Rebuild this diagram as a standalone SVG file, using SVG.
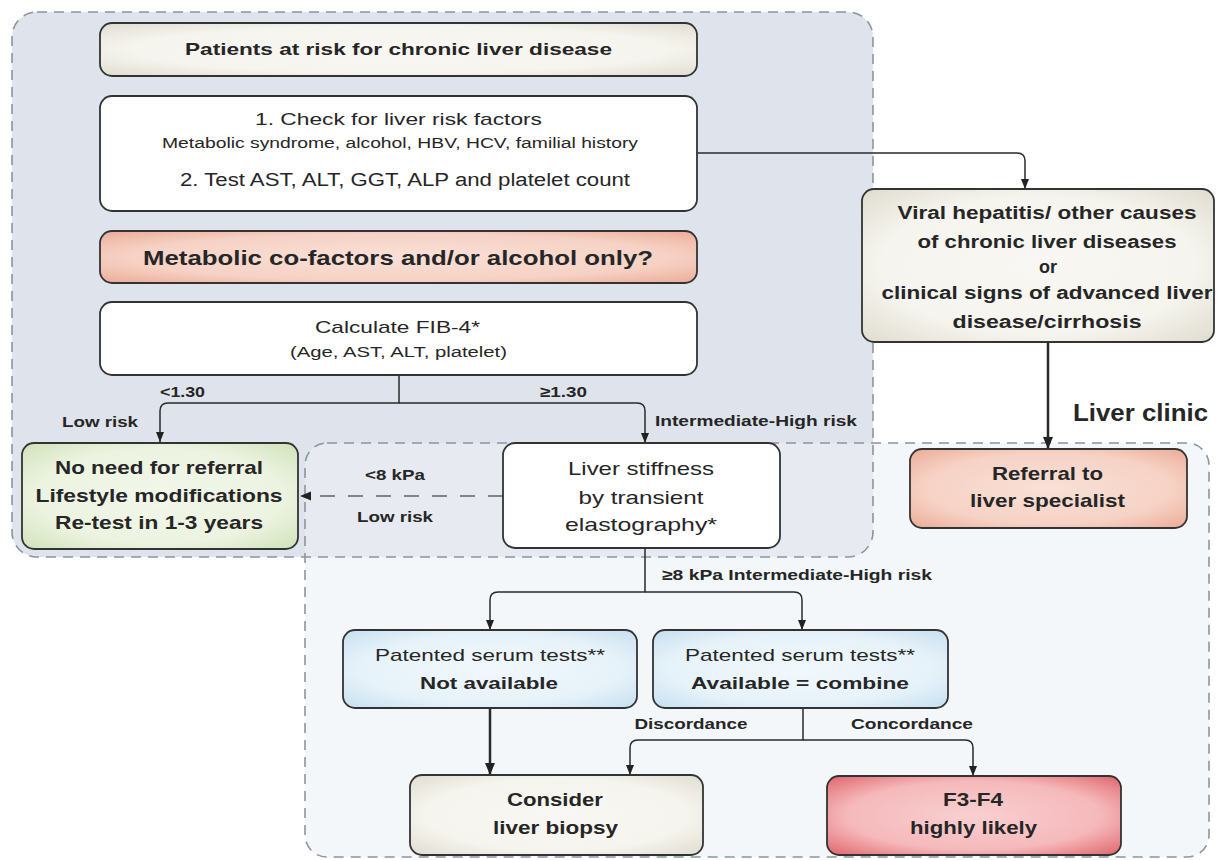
<svg xmlns="http://www.w3.org/2000/svg" width="1222" height="860" viewBox="0 0 1222 860">
<defs>
  <radialGradient id="gBeige" cx="50%" cy="50%" r="72%">
    <stop offset="0" stop-color="#f8f7f3"/><stop offset="0.62" stop-color="#f5f4ee"/><stop offset="1" stop-color="#dedbcd"/>
  </radialGradient>
  <radialGradient id="gSalmon" cx="50%" cy="50%" r="72%">
    <stop offset="0" stop-color="#f9e0d7"/><stop offset="0.62" stop-color="#f6d2c5"/><stop offset="1" stop-color="#eba892"/>
  </radialGradient>
  <radialGradient id="gGreen" cx="50%" cy="50%" r="72%">
    <stop offset="0" stop-color="#f2f7ea"/><stop offset="0.62" stop-color="#ecf3e0"/><stop offset="1" stop-color="#cfe0b8"/>
  </radialGradient>
  <radialGradient id="gBlue" cx="50%" cy="50%" r="72%">
    <stop offset="0" stop-color="#f1f8fc"/><stop offset="0.62" stop-color="#e6f2f9"/><stop offset="1" stop-color="#c3def0"/>
  </radialGradient>
  <radialGradient id="gRed" cx="50%" cy="50%" r="72%">
    <stop offset="0" stop-color="#f9cfd0"/><stop offset="0.6" stop-color="#f5b9bb"/><stop offset="1" stop-color="#de5f66"/>
  </radialGradient>
  <clipPath id="topClip"><rect x="12" y="12" width="861" height="545" rx="25"/></clipPath>
  <marker id="arr" markerUnits="userSpaceOnUse" markerWidth="10" markerHeight="8" refX="10" refY="4" orient="auto">
    <path d="M0,0 L10,4 L0,8 Z" fill="#222"/>
  </marker>
  <marker id="arrBig" markerUnits="userSpaceOnUse" markerWidth="12" markerHeight="10" refX="12" refY="5" orient="auto">
    <path d="M0,0 L12,5 L0,10 Z" fill="#222"/>
  </marker>
</defs>
<style>
  .region{fill:none;stroke:#8c949e;stroke-width:1.6;stroke-dasharray:10 7}
  .box{stroke:#333;stroke-width:1.8}
  .t{font-family:"Liberation Sans",Arial,sans-serif;fill:#262626;text-anchor:middle}
  .b{font-weight:bold}
  .c{fill:none;stroke:#2a2a2a;stroke-width:1.5}
  .thick{stroke-width:2.5}
  .dash{fill:none;stroke:#7d858f;stroke-width:2.2;stroke-dasharray:15 13}
</style>
<rect width="1222" height="860" fill="#ffffff"/>

<g id="regions">
  <rect x="305" y="443" width="904" height="414" rx="22" fill="#f4f7fa"/>
  <rect x="12" y="12" width="861" height="545" rx="25" fill="#dfe4ec"/>
  <rect x="305" y="443" width="904" height="414" rx="22" fill="#e7ebf1" clip-path="url(#topClip)"/>
  <rect class="region" x="12" y="12" width="861" height="545" rx="25"/>
  <rect class="region" x="305" y="443" width="904" height="414" rx="22"/>
  <text class="t b" x="1140.5" y="421" font-size="24" textLength="135" lengthAdjust="spacingAndGlyphs">Liver clinic</text>
</g>

<g id="connectors">
  <path class="c" d="M697,153 H1017 Q1025,153 1025,161 V189" marker-end="url(#arr)"/>
  <path class="c" d="M399,375 V403 H168 Q160,403 160,411 V442" marker-end="url(#arr)"/>
  <path class="c" d="M399,403 H637 Q645,403 645,411 V443" marker-end="url(#arr)"/>
  <path class="dash" d="M503,496 H308"/>
  <path d="M300,496 L311,491.5 L311,500.5 Z" fill="#222"/>
  <path class="c" d="M645,548 V592 H498 Q490,592 490,600 V630" marker-end="url(#arr)"/>
  <path class="c" d="M645,592 H794 Q802,592 802,600 V630" marker-end="url(#arr)"/>
  <path class="c thick" d="M490,708 V775" marker-end="url(#arrBig)"/>
  <path class="c" d="M803,708 V740 H638 Q630,740 630,748 V775" marker-end="url(#arr)"/>
  <path class="c" d="M803,740 H965 Q973,740 973,748 V776" marker-end="url(#arr)"/>
  <path class="c thick" d="M1048,342 V449" marker-end="url(#arrBig)"/>
  <text class="t b" x="182.5" y="397" font-size="15" textLength="45" lengthAdjust="spacingAndGlyphs">&lt;1.30</text>
  <text class="t b" x="563.5" y="397" font-size="15" textLength="47" lengthAdjust="spacingAndGlyphs">≥1.30</text>
  <text class="t b" x="100" y="427" font-size="15" textLength="76" lengthAdjust="spacingAndGlyphs">Low risk</text>
  <text class="t b" x="756" y="426" font-size="15" textLength="202" lengthAdjust="spacingAndGlyphs">Intermediate-High risk</text>
  <text class="t b" x="395" y="480" font-size="15" textLength="60" lengthAdjust="spacingAndGlyphs">&lt;8 kPa</text>
  <text class="t b" x="395" y="522" font-size="15" textLength="76" lengthAdjust="spacingAndGlyphs">Low risk</text>
  <text class="t b" x="797" y="580" font-size="15" textLength="270" lengthAdjust="spacingAndGlyphs">≥8 kPa Intermediate-High risk</text>
  <text class="t b" x="691" y="729" font-size="15" textLength="113" lengthAdjust="spacingAndGlyphs">Discordance</text>
  <text class="t b" x="912" y="729" font-size="15" textLength="122" lengthAdjust="spacingAndGlyphs">Concordance</text>
</g>

<g id="n-patients">
  <rect class="box" x="100" y="23" width="597" height="53" rx="12" fill="url(#gBeige)"/>
  <text class="t b" x="398.5" y="55" font-size="17" textLength="427" lengthAdjust="spacingAndGlyphs">Patients at risk for chronic liver disease</text>
</g>

<g id="n-check">
  <rect class="box" x="100" y="96" width="597" height="115" rx="12" fill="#ffffff"/>
  <text class="t" x="398.5" y="125" font-size="17" textLength="287" lengthAdjust="spacingAndGlyphs">1. Check for liver risk factors</text>
  <text class="t" x="400" y="148" font-size="14" textLength="476" lengthAdjust="spacingAndGlyphs">Metabolic syndrome, alcohol, HBV, HCV, familial history</text>
  <text class="t" x="405" y="186" font-size="18" textLength="450" lengthAdjust="spacingAndGlyphs">2. Test AST, ALT, GGT, ALP and platelet count</text>
</g>

<g id="n-metabolic">
  <rect class="box" x="100" y="231" width="597" height="52" rx="12" fill="url(#gSalmon)"/>
  <text class="t b" x="398" y="265" font-size="21" textLength="510" lengthAdjust="spacingAndGlyphs">Metabolic co-factors and/or alcohol only?</text>
</g>

<g id="n-fib4">
  <rect class="box" x="100" y="302" width="597" height="73" rx="12" fill="#ffffff"/>
  <text class="t" x="397.5" y="333" font-size="17" textLength="165" lengthAdjust="spacingAndGlyphs">Calculate FIB-4*</text>
  <text class="t" x="398.5" y="357" font-size="14" textLength="217" lengthAdjust="spacingAndGlyphs">(Age, AST, ALT, platelet)</text>
</g>

<g id="n-noreferral">
  <rect class="box" x="22" y="443" width="276" height="106" rx="12" fill="url(#gGreen)"/>
  <text class="t b" x="159" y="474" font-size="19" textLength="208" lengthAdjust="spacingAndGlyphs">No need for referral</text>
  <text class="t b" x="159" y="502" font-size="19" textLength="247" lengthAdjust="spacingAndGlyphs">Lifestyle modifications</text>
  <text class="t b" x="159" y="529" font-size="19" textLength="208" lengthAdjust="spacingAndGlyphs">Re-test in 1-3 years</text>
</g>

<g id="n-stiffness">
  <rect class="box" x="503" y="443" width="277" height="105" rx="12" fill="#ffffff"/>
  <text class="t" x="641" y="475" font-size="19" textLength="146" lengthAdjust="spacingAndGlyphs">Liver stiffness</text>
  <text class="t" x="641" y="504" font-size="19" textLength="125" lengthAdjust="spacingAndGlyphs">by transient</text>
  <text class="t" x="641" y="531" font-size="19" textLength="152" lengthAdjust="spacingAndGlyphs">elastography*</text>
</g>

<g id="n-viral">
  <rect class="box" x="862" y="189" width="352" height="153" rx="12" fill="url(#gBeige)"/>
  <text class="t b" x="1047" y="219" font-size="18" textLength="299" lengthAdjust="spacingAndGlyphs">Viral hepatitis/ other causes</text>
  <text class="t b" x="1047" y="248" font-size="18" textLength="259" lengthAdjust="spacingAndGlyphs">of chronic liver diseases</text>
  <text class="t b" x="1048" y="273" font-size="18">or</text>
  <text class="t b" x="1047" y="299" font-size="18" textLength="331" lengthAdjust="spacingAndGlyphs">clinical signs of advanced liver</text>
  <text class="t b" x="1047" y="328" font-size="18" textLength="189" lengthAdjust="spacingAndGlyphs">disease/cirrhosis</text>
</g>

<g id="n-referral">
  <rect class="box" x="910" y="449" width="277" height="79" rx="12" fill="url(#gSalmon)"/>
  <text class="t b" x="1047.5" y="480" font-size="19" textLength="111" lengthAdjust="spacingAndGlyphs">Referral to</text>
  <text class="t b" x="1047.5" y="507" font-size="19" textLength="155" lengthAdjust="spacingAndGlyphs">liver specialist</text>
</g>

<g id="n-notavailable">
  <rect class="box" x="343" y="630" width="294" height="78" rx="12" fill="url(#gBlue)"/>
  <text class="t" x="490" y="661" font-size="17" textLength="230" lengthAdjust="spacingAndGlyphs">Patented serum tests**</text>
  <text class="t b" x="489" y="689" font-size="17" textLength="138" lengthAdjust="spacingAndGlyphs">Not available</text>
</g>

<g id="n-available">
  <rect class="box" x="653" y="630" width="295" height="78" rx="12" fill="url(#gBlue)"/>
  <text class="t" x="800" y="661" font-size="17" textLength="230" lengthAdjust="spacingAndGlyphs">Patented serum tests**</text>
  <text class="t b" x="800" y="689" font-size="17" textLength="218" lengthAdjust="spacingAndGlyphs">Available = combine</text>
</g>

<g id="n-biopsy">
  <rect class="box" x="410" y="775" width="293" height="80" rx="12" fill="url(#gBeige)"/>
  <text class="t b" x="555" y="806" font-size="19" textLength="96" lengthAdjust="spacingAndGlyphs">Consider</text>
  <text class="t b" x="555.5" y="834" font-size="19" textLength="125" lengthAdjust="spacingAndGlyphs">liver biopsy</text>
</g>

<g id="n-f3f4">
  <rect class="box" x="827" y="776" width="294" height="79" rx="12" fill="url(#gRed)" stroke="#3a2a2a" stroke-width="2.2"/>
  <text class="t b" x="973" y="806" font-size="19" textLength="60" lengthAdjust="spacingAndGlyphs">F3-F4</text>
  <text class="t b" x="973.5" y="834" font-size="19" textLength="127" lengthAdjust="spacingAndGlyphs">highly likely</text>
</g>
</svg>
